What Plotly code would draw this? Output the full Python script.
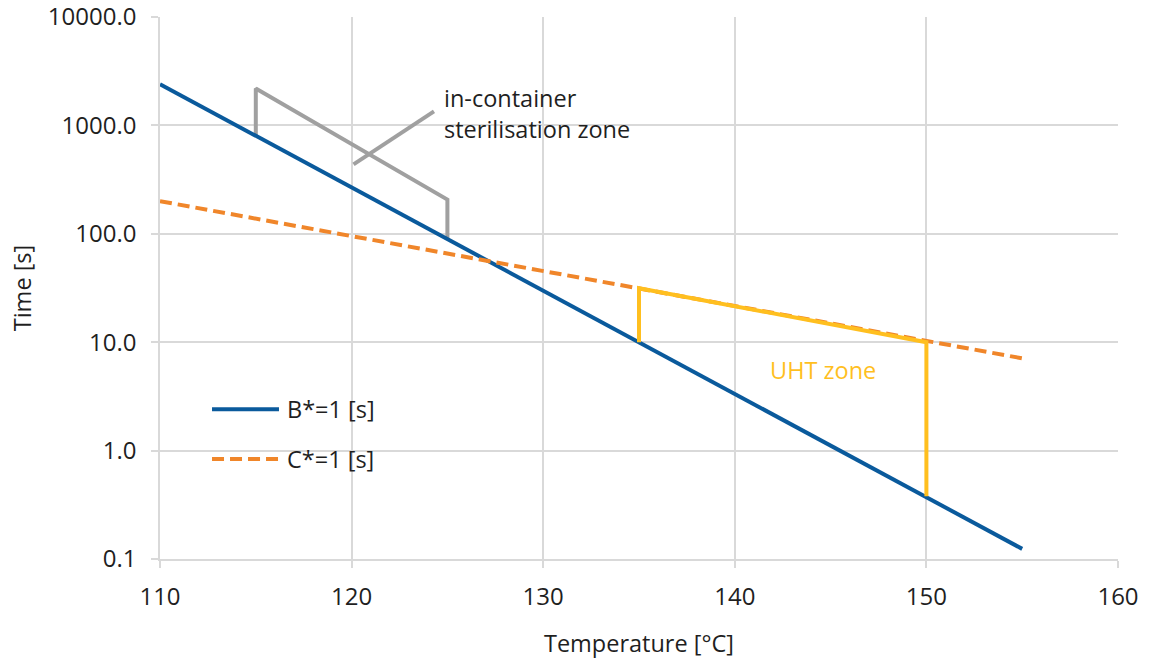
import math
import plotly.graph_objects as go

# Temperature [°C] / holding time [s] for the two reference lines
b_temp = [110, 155]
b_time = [2400, 0.124]
c_temp = [110, 155]
c_time = [200, 7.1]

# Outline of the in-container sterilisation zone and its label leader
ster_temp = [115, 115, 125, 125]
ster_time = [800, 2190, 207, 90]
leader_temp = [120.1, 124.3]
leader_time = [437, 1346]

# Outline of the UHT zone
uht_temp = [135, 135, 150, 150]
uht_time = [10, 31.5, 10, 0.38]

y_ticks = [0.1, 1, 10, 100, 1000, 10000]
x_ticks = [110, 120, 130, 140, 150, 160]

FONT = "Open Sans"
TEXT = "#1f1f1f"
GRID = "#d9d9d9"
BLUE = "#0a5a9c"
ORANGE = "#f0862a"
GREY = "#a0a0a0"
YELLOW = "#ffbf1f"
FS = 23.5
DASH = "12px,6px"

fig = go.Figure()

fig.add_trace(go.Scatter(x=ster_temp, y=ster_time, mode="lines",
                         line=dict(color=GREY, width=4), showlegend=False, hoverinfo="skip"))
fig.add_trace(go.Scatter(x=leader_temp, y=leader_time, mode="lines",
                         line=dict(color=GREY, width=4), showlegend=False, hoverinfo="skip"))
fig.add_trace(go.Scatter(x=b_temp, y=b_time, mode="lines", name="B*=1 [s]",
                         line=dict(color=BLUE, width=4), showlegend=False))
fig.add_trace(go.Scatter(x=c_temp, y=c_time, mode="lines", name="C*=1 [s]",
                         line=dict(color=ORANGE, width=4, dash=DASH), showlegend=False))
fig.add_trace(go.Scatter(x=uht_temp, y=uht_time, mode="lines",
                         line=dict(color=YELLOW, width=4), showlegend=False, hoverinfo="skip"))

# Zone labels (log axis: annotation y is given in log10 units)
fig.add_annotation(x=124.7, y=math.log10(1290), xref="x", yref="y", yanchor="middle",
                   text="in-container<br>sterilisation zone", showarrow=False,
                   xanchor="left", align="left",
                   font=dict(family=FONT, size=FS, color=TEXT))
fig.add_annotation(x=144.6, y=math.log10(5.5), xref="x", yref="y", text="UHT zone",
                   showarrow=False, font=dict(family=FONT, size=FS, color=YELLOW))

# Legend key drawn inside the plot area
legend_items = [("B*=1 [s]", BLUE, "solid", 0.2765), ("C*=1 [s]", ORANGE, DASH, 0.1843)]
for label, color, dash, ypos in legend_items:
    fig.add_shape(type="line", xref="paper", yref="paper", x0=0.0543, x1=0.1242,
                  y0=ypos, y1=ypos, line=dict(color=color, width=4, dash=dash))
    fig.add_annotation(x=0.1305, y=ypos, xref="paper", yref="paper", text=label,
                       showarrow=False, xanchor="left", yanchor="middle",
                       font=dict(family=FONT, size=FS, color=TEXT))

axis_common = dict(
    showgrid=True, gridcolor=GRID, gridwidth=1.5,
    showline=True, linecolor=GRID, linewidth=1.5,
    ticks="outside", ticklen=7, tickcolor=GRID, tickwidth=1.5,
    tickfont=dict(family=FONT, size=24, color=TEXT),
    zeroline=False, automargin=False, ticklabeloverflow="allow",
)

fig.update_xaxes(range=[110, 160], tickvals=x_ticks, ticklabelstandoff=8,
                 title=dict(text="Temperature [°C]", font=dict(family=FONT, size=FS, color=TEXT), standoff=25),
                 **axis_common)
fig.update_yaxes(type="log", range=[-1.00001, 4.00001], tickvals=y_ticks,
                 ticktext=[f"{v:.1f}" for v in y_ticks], ticklabelstandoff=10,
                 title=dict(text="Time [s]", font=dict(family=FONT, size=FS, color=TEXT), standoff=10),
                 **axis_common)

fig.update_layout(
    width=1149, height=659,
    margin=dict(l=160, r=31, t=17, b=100),
    plot_bgcolor="white", paper_bgcolor="white",
    font=dict(family=FONT, color=TEXT),
    showlegend=False,
)

fig.write_html("out.html")
